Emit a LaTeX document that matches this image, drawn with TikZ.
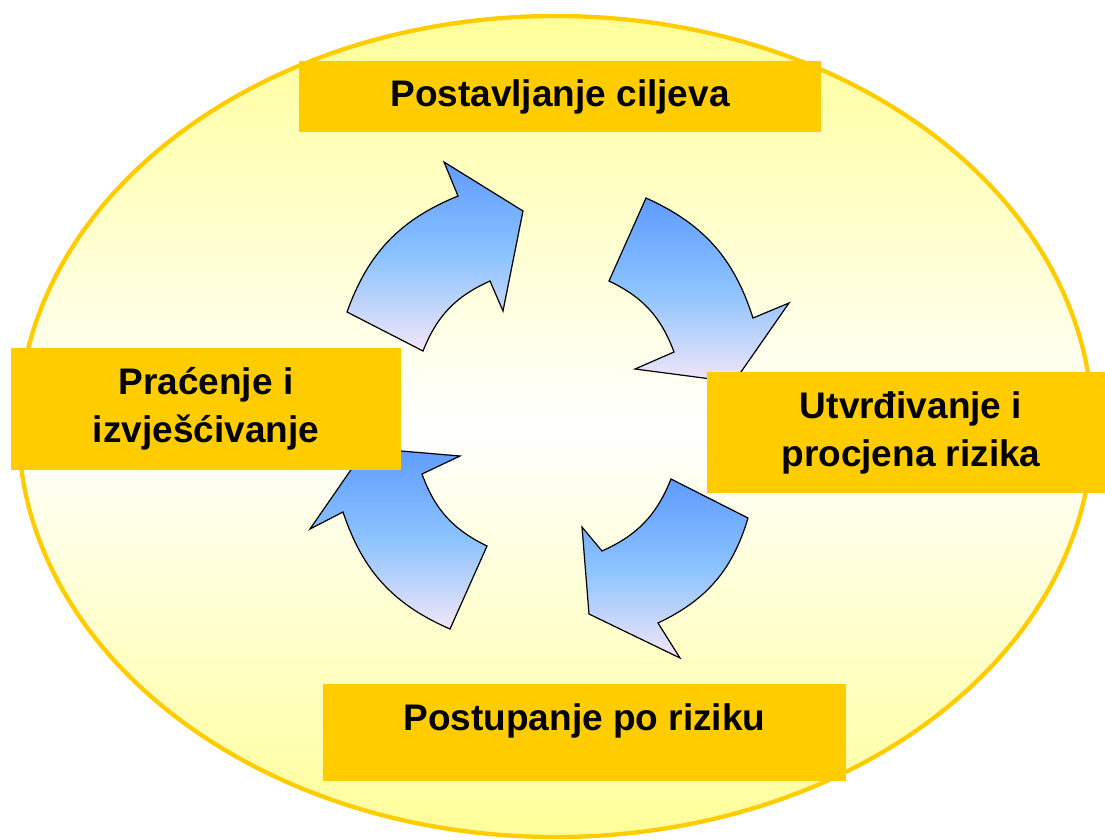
\documentclass[tikz,border=0pt]{standalone}
\usepackage{fontspec}
\setmainfont{Liberation Sans}
\usepackage{tikz}
\usetikzlibrary{shapes, positioning, backgrounds}
\usepackage{xcolor}
\definecolor{gold}{RGB}{255,204,0}
\definecolor{paleyellow}{RGB}{255,255,153}
\definecolor{arrowtop}{RGB}{95,155,255}
\definecolor{arrowmid}{RGB}{140,195,255}
\definecolor{arrowbot}{RGB}{242,230,248}
\tikzset{%
    % Boxes with the steps of the cycle
    stepbox/.style  = {rectangle, fill=gold, inner sep=0pt, align=center,
    font=\bfseries\fontsize{37}{48}\selectfont},
    % Curved block arrows
    cyclearrow/.style = {draw=black, line width=1.2pt, line join=miter,
    top color=arrowtop, bottom color=arrowbot, middle color=arrowmid},
    % Background ellipse
    frame/.style    = {draw=gold, line width=4.3pt, top color=paleyellow,
    bottom color=paleyellow, middle color=white}
}
\begin{document}
\begin{tikzpicture}[x=1pt, y=-1pt]
	\useasboundingbox (0,0) rectangle (1105,839);
	\coordinate (C) at (555.5,426.5);
	\path[frame] (C) ellipse [x radius=537, y radius=410.5];

	\draw[cyclearrow] (523,211) -- (503,311) -- (490,281) to[bend right=22] (423,351)
		-- (347,312) to[bend left=24] (458,196) -- (444,162) -- cycle;
	\draw[cyclearrow] (646,198) to[bend left=24] (753,318) -- (789,303) -- (734,382)
		-- (635,369) -- (674,352) to[bend right=22] (609,281) -- cycle;
	\draw[cyclearrow] (671,479) to[bend left=22] (602,551) -- (582,527) -- (589,614)
		-- (680,658) -- (658,623) to[bend right=24] (748,518) -- cycle;
	\draw[cyclearrow] (366,448) -- (460,456) -- (422,474) to[bend right=22] (487,546)
		-- (450,629) to[bend left=24] (343,512) -- (310,529) -- cycle;

	\node[stepbox, minimum width=522, minimum height=71] (ciljevi) at (560,96.5) {Postavljanje ciljeva};
	\node[stepbox, minimum width=408, minimum height=121] (procjena) at (911,432.5) {Utvrđivanje i\\procjena rizika};
	\node[stepbox, minimum width=523, minimum height=97, text height=46, text depth=51] (postupanje) at (584.5,732.5) {Postupanje po riziku};
	\node[stepbox, minimum width=390, minimum height=122] (pracenje) at (206,409) {Praćenje i\\izvješćivanje};
\end{tikzpicture}
\end{document}
